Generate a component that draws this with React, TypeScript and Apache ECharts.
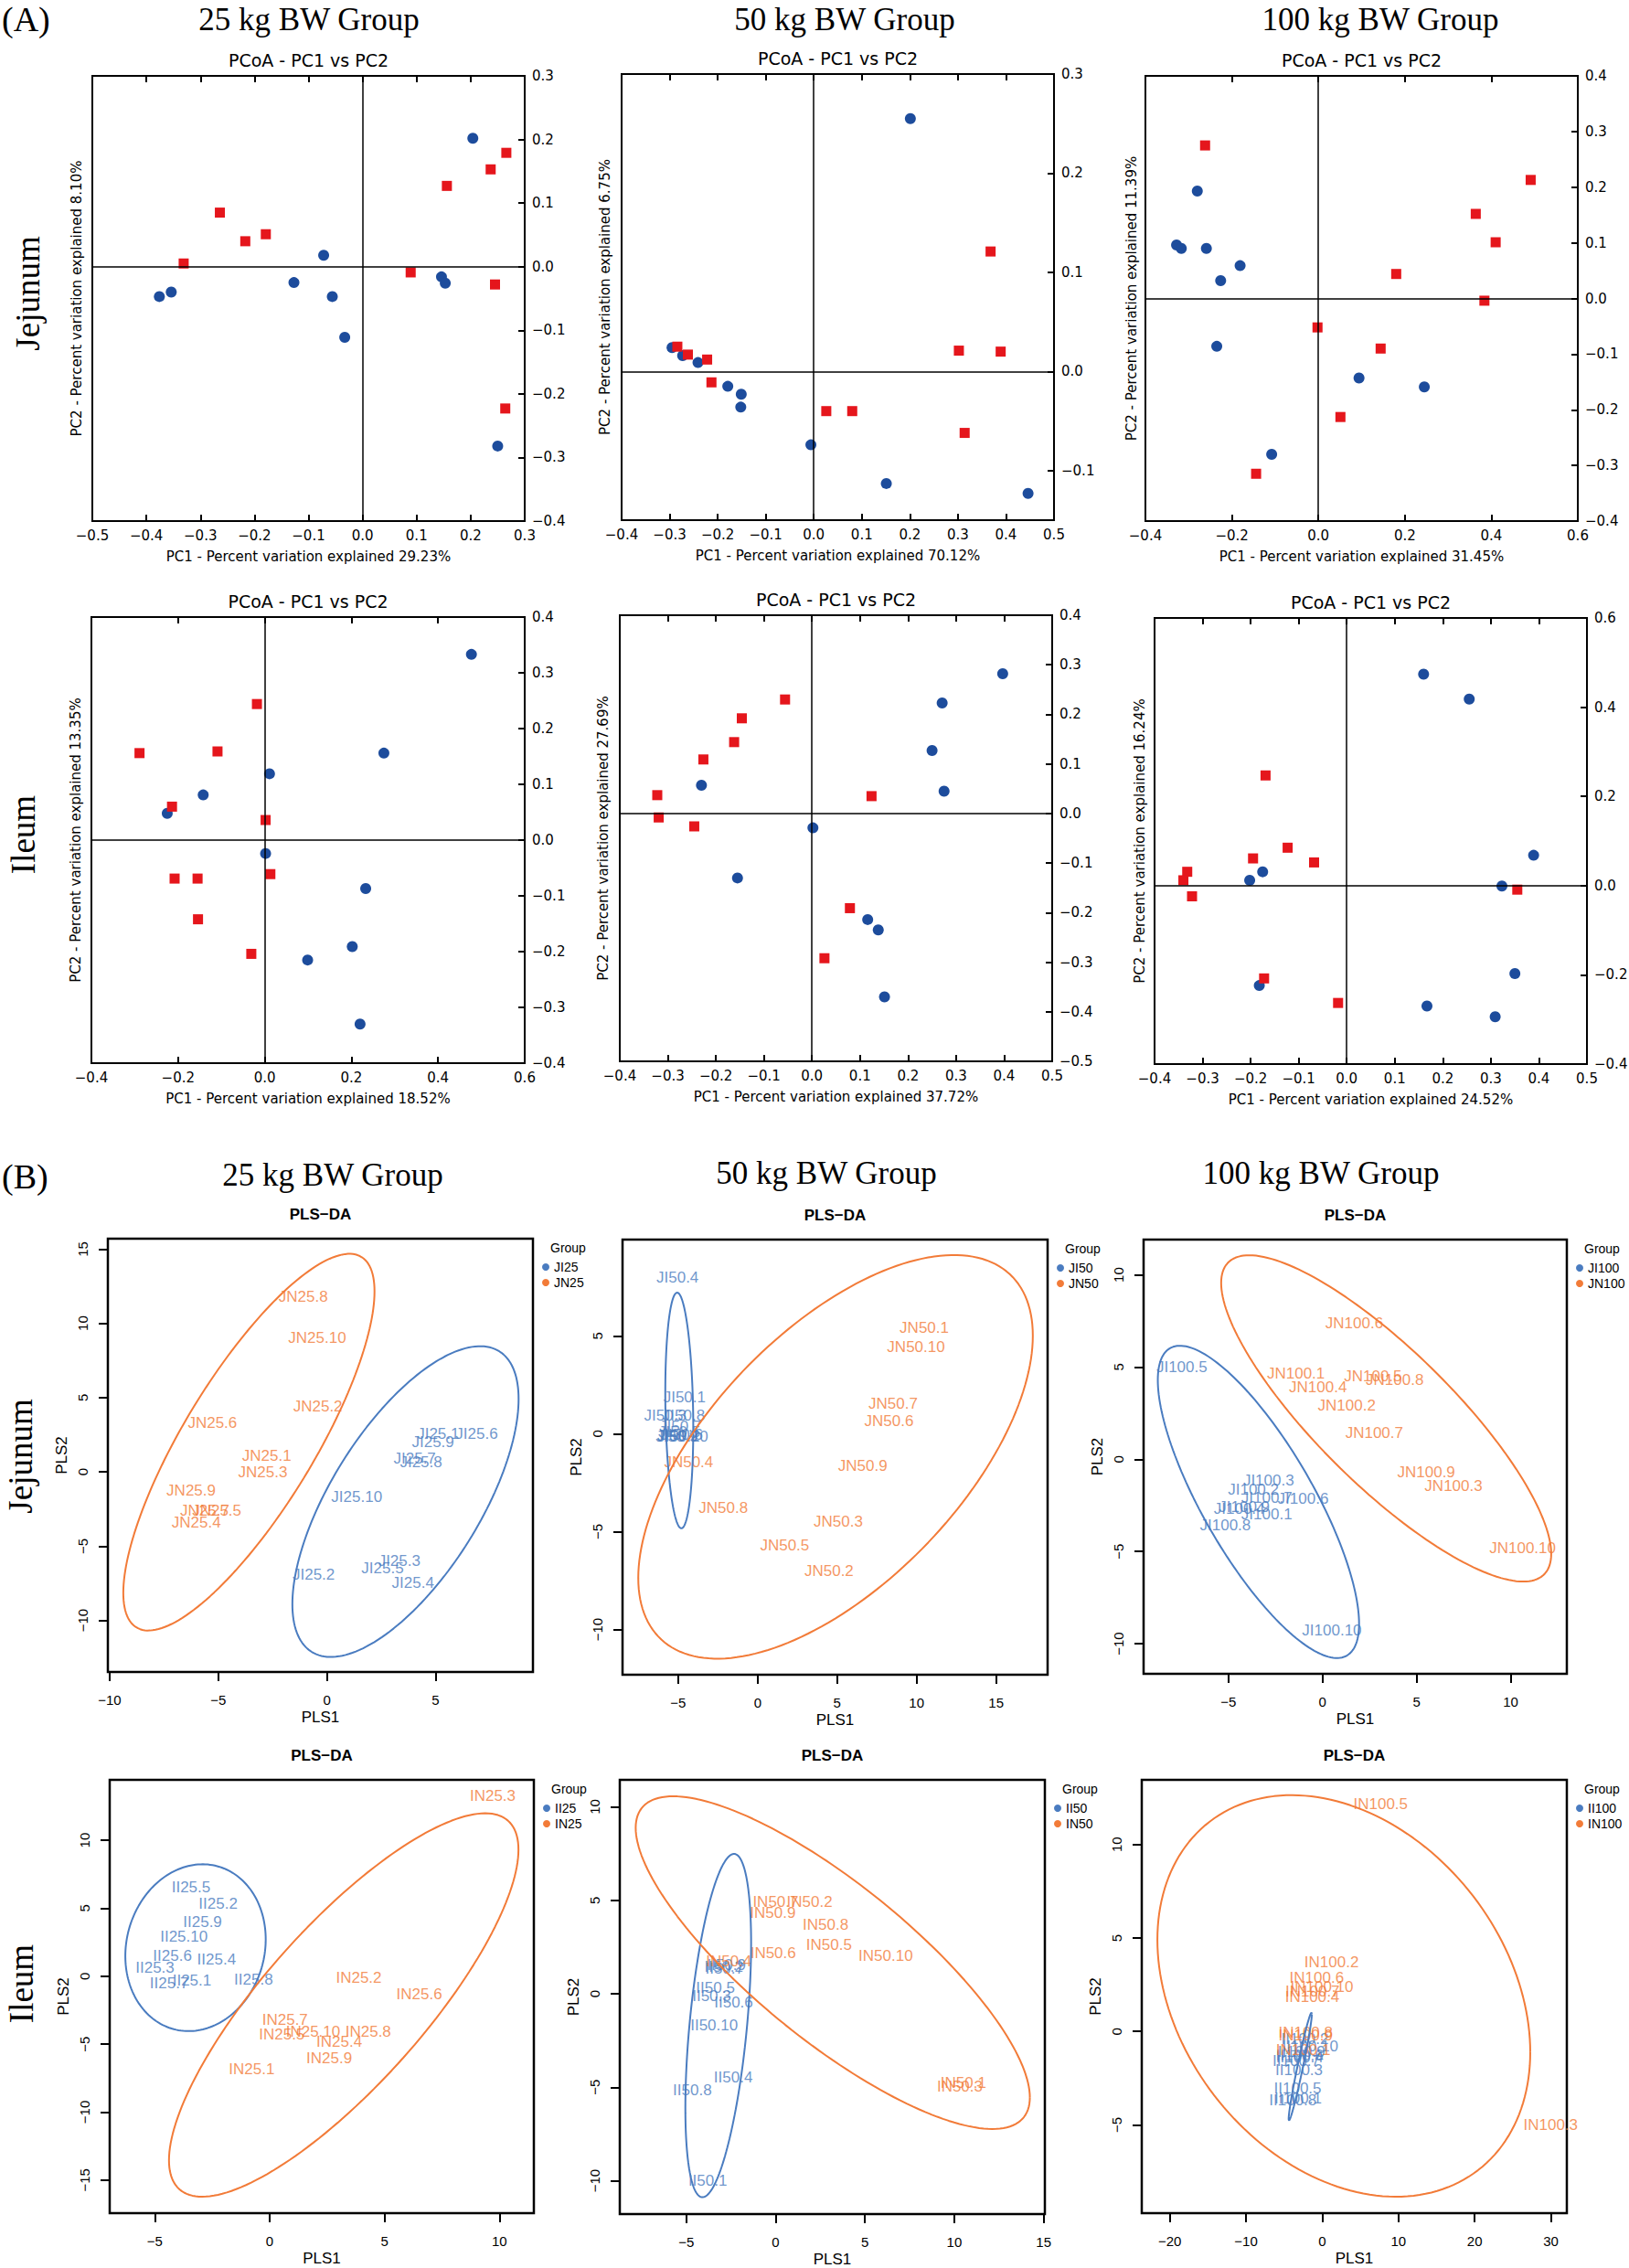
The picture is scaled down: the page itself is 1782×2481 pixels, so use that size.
import React, { useEffect, useRef } from "react";
import * as echarts from "echarts";

type Pt = [number, number];
type Lab = [string, number, number];
// ellipse: centre x, centre y, half-width, half-height, tilt (relative height at the x-extreme)
type Ell = [number, number, number, number, number];

// ================= (A) PCoA scores =================
const jej25Blue: Pt[] = [[0.204, 0.202], [-0.072, 0.018], [-0.127, -0.025], [-0.056, -0.047], [-0.033, -0.111], [-0.376, -0.047], [-0.354, -0.04], [0.146, -0.016], [0.153, -0.026], [0.25, -0.282]];
const jej25Red: Pt[] = [[0.266, 0.179], [0.237, 0.153], [0.156, 0.127], [-0.264, 0.085], [-0.217, 0.04], [-0.179, 0.051], [-0.331, 0.005], [0.089, -0.009], [0.245, -0.028], [0.264, -0.223]];
const jej50Blue: Pt[] = [[0.201, 0.255], [-0.295, 0.024], [-0.273, 0.016], [-0.241, 0.009], [-0.179, -0.015], [-0.151, -0.023], [-0.152, -0.036], [-0.006, -0.074], [0.151, -0.113], [0.446, -0.123]];
const jej50Red: Pt[] = [[0.368, 0.121], [0.302, 0.021], [0.389, 0.02], [-0.284, 0.025], [-0.262, 0.017], [-0.222, 0.012], [-0.213, -0.011], [0.026, -0.04], [0.08, -0.04], [0.314, -0.062]];
const jej100Blue: Pt[] = [[-0.28, 0.193], [-0.328, 0.096], [-0.317, 0.09], [-0.259, 0.09], [-0.181, 0.059], [-0.226, 0.032], [-0.235, -0.086], [0.094, -0.143], [0.245, -0.159], [-0.108, -0.28]];
const jej100Red: Pt[] = [[-0.262, 0.275], [0.491, 0.213], [0.364, 0.152], [0.41, 0.101], [0.18, 0.044], [0.384, -0.004], [-0.002, -0.052], [0.144, -0.09], [0.051, -0.213], [-0.144, -0.315]];
const ile25Blue: Pt[] = [[0.477, 0.333], [0.275, 0.156], [0.011, 0.119], [-0.142, 0.081], [-0.225, 0.048], [0.002, -0.024], [0.233, -0.087], [0.202, -0.191], [0.099, -0.215], [0.22, -0.33]];
const ile25Red: Pt[] = [[-0.018, 0.244], [-0.289, 0.156], [-0.109, 0.159], [-0.214, 0.06], [0.002, 0.036], [-0.208, -0.069], [-0.155, -0.069], [0.013, -0.061], [-0.154, -0.142], [-0.031, -0.204]];
const ile50Blue: Pt[] = [[0.397, 0.282], [0.271, 0.223], [0.25, 0.127], [0.275, 0.045], [-0.23, 0.057], [0.002, -0.029], [-0.155, -0.13], [0.116, -0.214], [0.138, -0.235], [0.151, -0.37]];
const ile50Red: Pt[] = [[-0.056, 0.23], [-0.146, 0.192], [-0.162, 0.144], [-0.226, 0.109], [-0.322, 0.037], [-0.319, -0.008], [-0.245, -0.026], [0.124, 0.035], [0.079, -0.191], [0.026, -0.292]];
const ile100Blue: Pt[] = [[0.16, 0.474], [0.255, 0.418], [0.389, 0.068], [0.323, -0.001], [0.35, -0.197], [0.167, -0.27], [0.309, -0.294], [-0.175, 0.031], [-0.202, 0.012], [-0.182, -0.224]];
const ile100Red: Pt[] = [[-0.169, 0.247], [-0.123, 0.085], [-0.195, 0.061], [-0.068, 0.052], [-0.332, 0.031], [-0.34, 0.012], [-0.322, -0.024], [0.355, -0.009], [-0.172, -0.208], [-0.018, -0.263]];

const pc1Var = ["29.23%", "70.12%", "31.45%", "18.52%", "37.72%", "24.52%"];
const pc2Var = ["8.10%", "6.75%", "11.39%", "13.35%", "27.69%", "16.24%"];

// PCoA tick values
const ticksJ25X = [-0.5, -0.4, -0.3, -0.2, -0.1, 0, 0.1, 0.2, 0.3];
const ticksJ25Y = [-0.4, -0.3, -0.2, -0.1, 0, 0.1, 0.2, 0.3];
const ticksJ50X = [-0.4, -0.3, -0.2, -0.1, 0, 0.1, 0.2, 0.3, 0.4, 0.5];
const ticksJ50Y = [-0.1, 0, 0.1, 0.2, 0.3];
const ticksJ100X = [-0.4, -0.2, 0, 0.2, 0.4, 0.6];
const ticksJ100Y = [-0.4, -0.3, -0.2, -0.1, 0, 0.1, 0.2, 0.3, 0.4];
const ticksI25X = [-0.4, -0.2, 0, 0.2, 0.4, 0.6];
const ticksI25Y = [-0.4, -0.3, -0.2, -0.1, 0, 0.1, 0.2, 0.3, 0.4];
const ticksI50X = [-0.4, -0.3, -0.2, -0.1, 0, 0.1, 0.2, 0.3, 0.4, 0.5];
const ticksI50Y = [-0.5, -0.4, -0.3, -0.2, -0.1, 0, 0.1, 0.2, 0.3, 0.4];
const ticksI100X = [-0.4, -0.3, -0.2, -0.1, 0, 0.1, 0.2, 0.3, 0.4, 0.5];
const ticksI100Y = [-0.4, -0.2, 0, 0.2, 0.4, 0.6];

// ================= (B) PLS-DA sample scores =================
const jej25JI: Lab[] = [["JI25.1", 5.12, 2.56], ["JI25.6", 6.89, 2.56], ["JI25.9", 4.88, 1.98], ["JI25.7", 4.04, 0.88], ["JI25.8", 4.33, 0.68], ["JI25.10", 1.37, -1.66], ["JI25.3", 3.33, -5.98], ["JI25.5", 2.56, -6.48], ["JI25.2", -0.61, -6.93], ["JI25.4", 3.96, -7.49]];
const jej25JN: Lab[] = [["JN25.8", -1.09, 11.81], ["JN25.10", -0.45, 9.05], ["JN25.2", -0.42, 4.4], ["JN25.6", -5.27, 3.32], ["JN25.1", -2.77, 1.06], ["JN25.3", -2.95, 0.0], ["JN25.9", -6.25, -1.28], ["JN25.7", -5.62, -2.59], ["JN25.5", -5.07, -2.59], ["JN25.4", -6.01, -3.42]];
const jej50JI: Lab[] = [["JI50.4", -5.04, 7.98], ["JI50.1", -4.6, 1.85], ["JI50.3", -5.81, 0.95], ["JI50.8", -4.65, 0.92], ["JI50.7", -4.87, 0.38], ["JI50.5", -4.93, 0.1], ["JI50.2", -5.0, -0.1], ["JI50.6", -4.78, -0.04], ["JI50.9", -5.09, -0.15], ["JI50.10", -4.71, -0.15]];
const jej50JN: Lab[] = [["JN50.1", 10.48, 5.4], ["JN50.10", 9.96, 4.45], ["JN50.7", 8.52, 1.56], ["JN50.6", 8.26, 0.63], ["JN50.9", 6.61, -1.66], ["JN50.4", -4.34, -1.43], ["JN50.8", -2.16, -3.78], ["JN50.3", 5.07, -4.48], ["JN50.5", 1.7, -5.69], ["JN50.2", 4.49, -7.02]];
const jej100JI: Lab[] = [["JI100.5", -7.47, 4.99], ["JI100.3", -2.86, -1.17], ["JI100.2", -3.67, -1.64], ["JI100.7", -2.96, -2.08], ["JI100.6", -1.03, -2.12], ["JI100.9", -4.15, -2.59], ["JI100.4", -4.42, -2.69], ["JI100.1", -2.96, -2.99], ["JI100.8", -5.16, -3.6], ["JI100.10", 0.5, -9.3]];
const jej100JN: Lab[] = [["JN100.6", 1.69, 7.36], ["JN100.1", -1.41, 4.63], ["JN100.5", 2.68, 4.49], ["JN100.8", 3.84, 4.29], ["JN100.4", -0.24, 3.92], ["JN100.2", 1.29, 2.93], ["JN100.7", 2.75, 1.44], ["JN100.9", 5.51, -0.71], ["JN100.3", 6.96, -1.46], ["JN100.10", 10.63, -4.81]];
const ile25II: Lab[] = [["II25.5", -3.42, 6.55], ["II25.2", -2.24, 5.32], ["II25.9", -2.92, 3.96], ["II25.10", -3.73, 2.93], ["II25.6", -4.23, 1.47], ["II25.4", -2.31, 1.26], ["II25.3", -4.99, 0.6], ["II25.7", -4.37, -0.52], ["II25.1", -3.38, -0.31], ["II25.8", -0.7, -0.26]];
const ile25IN: Lab[] = [["IN25.3", 9.71, 13.26], ["IN25.2", 3.88, -0.13], ["IN25.6", 6.51, -1.36], ["IN25.7", 0.67, -3.2], ["IN25.5", 0.53, -4.3], ["IN25.10", 1.89, -4.11], ["IN25.8", 4.29, -4.11], ["IN25.4", 3.03, -4.82], ["IN25.9", 2.59, -6.0], ["IN25.1", -0.78, -6.87]];
const ile50II: Lab[] = [["II50.9", -2.75, 1.55], ["II50.7", -2.85, 1.35], ["II50.2", -2.9, 1.42], ["II50.5", -3.37, 0.34], ["II50.3", -3.58, -0.13], ["II50.6", -2.35, -0.46], ["II50.10", -3.44, -1.69], ["II50.4", -2.37, -4.47], ["II50.8", -4.66, -5.18], ["II50.1", -3.8, -9.99]];
const ile50IN: Lab[] = [["IN50.7", 0.0, 4.91], ["IN50.2", 1.9, 4.91], ["IN50.9", -0.16, 4.34], ["IN50.8", 2.8, 3.71], ["IN50.5", 2.99, 2.63], ["IN50.6", -0.14, 2.19], ["IN50.10", 6.16, 2.02], ["IN50.4", -2.62, 1.73], ["IN50.1", 10.51, -4.76], ["IN50.3", 10.31, -4.95]];
const ile100II: Lab[] = [["II100.5", -3.22, -3.03], ["II100.3", -3.04, -2.08], ["II100.8", -3.85, -3.66], ["II100.1", -3.17, -3.6], ["II100.10", -1.59, -0.8], ["II100.6", -2.95, -1.28], ["II100.9", -2.72, -1.09], ["II100.2", -2.27, -0.42], ["II100.4", -2.95, -1.37], ["II100.7", -3.4, -1.56]];
const ile100IN: Lab[] = [["IN100.5", 7.66, 12.14], ["IN100.3", 29.96, -4.99], ["IN100.2", 1.22, 3.72], ["IN100.6", -0.73, 2.86], ["IN100.10", -0.05, 2.4], ["IN100.7", -1.27, 2.15], ["IN100.4", -1.31, 1.87], ["IN100.8", -2.18, -0.04], ["IN100.9", -2.18, -0.23], ["IN100.1", -2.49, -0.99]];

// confidence ellipses
const ellJ25JI: Ell = [3.615, -2.0, 5.205, 10.46, 0.66];
const ellJ25JN: Ell = [-3.59, 2.0, 5.78, 12.68, 0.8];
const ellJ50JI: Ell = [-4.93, 1.19, 0.88, 6.02, -0.15];
const ellJ50JN: Ell = [4.9, -1.18, 12.41, 10.31, 0.6];
const ellJ100JI: Ell = [-3.4, -2.31, 5.345, 8.465, -0.78];
const ellJ100JN: Ell = [3.385, 2.215, 8.765, 8.845, -0.83];
const ellI25II: Ell = [-3.225, 2.095, 3.055, 6.135, 0.1];
const ellI25IN: Ell = [3.225, -2.12, 7.605, 14.1, 0.81];
const ellI50II: Ell = [-3.21, -1.7, 1.84, 9.18, 0.48];
const ellI50IN: Ell = [3.2, 1.665, 11.03, 8.895, -0.81];
const ellI100II: Ell = [-2.88, -1.875, 1.52, 2.885, 0.97];
const ellI100IN: Ell = [2.835, 1.9, 24.455, 10.74, -0.28];

// PLS-DA tick values
const plsJ25X = [-10, -5, 0, 5];
const plsJ25Y = [-10, -5, 0, 5, 10, 15];
const plsJ50X = [-5, 0, 5, 10, 15];
const plsJ50Y = [-10, -5, 0, 5];
const plsJ100X = [-5, 0, 5, 10];
const plsJ100Y = [-10, -5, 0, 5, 10];
const plsI25X = [-5, 0, 5, 10];
const plsI25Y = [-15, -10, -5, 0, 5, 10];
const plsI50X = [-5, 0, 5, 10, 15];
const plsI50Y = [-10, -5, 0, 5, 10];
const plsI100X = [-20, -10, 0, 10, 20, 30];
const plsI100Y = [-5, 0, 5, 10];

const groupTitles = ["25 kg BW Group", "50 kg BW Group", "100 kg BW Group"];

// ================= styling / layout =================
const SANS = "'DejaVu Sans', sans-serif";
const RS = "'Liberation Sans', Arial, sans-serif";
const SERIF = "'Liberation Serif', 'Times New Roman', serif";
const PT_BLUE = "#1d4c9c";
const PT_RED = "#e5161c";
const PLS_BLUE = "#4a7cc0";
const PLS_ORANGE = "#f27b38";

const pcoaPanels = [
  { box: [101, 83, 473, 487], blue: jej25Blue, red: jej25Red, xt: ticksJ25X, yt: ticksJ25Y, xr: [-0.5, 0.3], yr: [-0.4, 0.3], yGap: 10 },
  { box: [680, 81, 473, 488], blue: jej50Blue, red: jej50Red, xt: ticksJ50X, yt: ticksJ50Y, xr: [-0.4, 0.5], yr: [-0.15, 0.3], yGap: 11 },
  { box: [1253, 83, 473, 487], blue: jej100Blue, red: jej100Red, xt: ticksJ100X, yt: ticksJ100Y, xr: [-0.4, 0.6], yr: [-0.4, 0.4], yGap: 8 },
  { box: [100, 675, 474, 488], blue: ile25Blue, red: ile25Red, xt: ticksI25X, yt: ticksI25Y, xr: [-0.4, 0.6], yr: [-0.4, 0.4], yGap: 10 },
  { box: [678, 673, 473, 488], blue: ile50Blue, red: ile50Red, xt: ticksI50X, yt: ticksI50Y, xr: [-0.4, 0.5], yr: [-0.5, 0.4], yGap: 11 },
  { box: [1263, 676, 473, 488], blue: ile100Blue, red: ile100Red, xt: ticksI100X, yt: ticksI100Y, xr: [-0.4, 0.5], yr: [-0.4, 0.6], yGap: 9 },
];

const plsPanels = [
  { box: [118, 1355, 465, 474], xr: [-10.08, 9.48], yr: [-13.47, 15.7], xt: plsJ25X, yt: plsJ25Y, a: jej25JI, b: jej25JN, ea: ellJ25JI, eb: ellJ25JN, legend: ["JI25", "JN25"] },
  { box: [681, 1356, 465, 476], xr: [-8.5, 18.24], yr: [-12.31, 9.92], xt: plsJ50X, yt: plsJ50Y, a: jej50JI, b: jej50JN, ea: ellJ50JI, eb: ellJ50JN, legend: ["JI50", "JN50"] },
  { box: [1251, 1356, 463, 475], xr: [-9.5, 12.98], yr: [-11.63, 11.91], xt: plsJ100X, yt: plsJ100Y, a: jej100JI, b: jej100JN, ea: ellJ100JI, eb: ellJ100JN, legend: ["JI100", "JN100"] },
  { box: [120, 1947, 464, 474], xr: [-6.96, 11.5], yr: [-17.43, 14.44], xt: plsI25X, yt: plsI25Y, a: ile25II, b: ile25IN, ea: ellI25II, eb: ellI25IN, legend: ["II25", "IN25"] },
  { box: [678, 1947, 465, 475], xr: [-8.72, 15.07], yr: [-11.78, 11.44], xt: plsI50X, yt: plsI50Y, a: ile50II, b: ile50IN, ea: ellI50II, eb: ellI50IN, legend: ["II50", "IN50"] },
  { box: [1249, 1947, 465, 474], xr: [-23.67, 32.09], yr: [-9.72, 13.46], xt: plsI100X, yt: plsI100Y, a: ile100II, b: ile100IN, ea: ellI100II, eb: ellI100IN, legend: ["II100", "IN100"] },
];

const MINUS = "\u2212";
function fmtA(v: number) {
  const s = (Math.abs(v) < 1e-9 ? 0 : v).toFixed(1);
  return s.replace("-", MINUS);
}
function fmtB(v: number) {
  const r = Math.round(v);
  return r < 0 ? MINUS + Math.abs(r) : String(r);
}
function ellipseOutline(e: Ell): Pt[] {
  const [cx, cy, a, b, k] = e;
  const d = Math.acos(k);
  const out: Pt[] = [];
  const n = 180;
  for (let i = 0; i <= n; i++) {
    const t = (i / n) * Math.PI * 2;
    out.push([cx + a * Math.cos(t), cy + b * Math.cos(t + d)]);
  }
  return out;
}

function buildOption() {
  const grid: any[] = [];
  const xAxis: any[] = [];
  const yAxis: any[] = [];
  const series: any[] = [];
  const graphic: any[] = [];

  const txt = (text: string, x: number, y: number, font: string, align = "center", rot = 0) => ({
    type: "text",
    x,
    y,
    rotation: rot,
    silent: true,
    z: 100,
    style: { text, font, fill: "#000", align, verticalAlign: "middle", textAlign: align, textVerticalAlign: "middle" },
  });

  // ---------- (A) ----------
  pcoaPanels.forEach((p, i) => {
    const [L, T, Wd, Ht] = p.box;
    const g = grid.length;
    grid.push({ left: L, top: T, width: Wd, height: Ht, show: true, borderColor: "#000", borderWidth: 2, backgroundColor: "transparent", outerBoundsMode: "none" });
    const tick = (vals: number[]) => ({ show: true, inside: true, length: 7, lineStyle: { color: "#000", width: 2 }, customValues: vals });
    const xi = xAxis.length;
    xAxis.push({
      gridIndex: g, type: "value", min: p.xr[0], max: p.xr[1], position: "bottom",
      axisLine: { show: false, onZero: false }, axisTick: tick(p.xt), splitLine: { show: false },
      axisLabel: { customValues: p.xt, formatter: fmtA, margin: 8, fontSize: 15, color: "#000", fontFamily: SANS },
      name: `PC1 - Percent variation explained ${pc1Var[i]}`, nameLocation: "middle", nameGap: 31, nameMoveOverlap: false,
      nameTextStyle: { fontSize: 15, color: "#000", fontFamily: SANS },
    });
    xAxis.push({
      gridIndex: g, type: "value", min: p.xr[0], max: p.xr[1], position: "top",
      axisLine: { show: false, onZero: false }, axisTick: tick(p.xt), axisLabel: { show: false }, splitLine: { show: false },
    });
    const yi = yAxis.length;
    yAxis.push({
      gridIndex: g, type: "value", min: p.yr[0], max: p.yr[1], position: "right",
      axisLine: { show: false, onZero: false }, axisTick: tick(p.yt), splitLine: { show: false },
      axisLabel: { customValues: p.yt, formatter: fmtA, margin: 8, fontSize: 15, color: "#000", fontFamily: SANS },
    });
    yAxis.push({
      gridIndex: g, type: "value", min: p.yr[0], max: p.yr[1], position: "left",
      axisLine: { show: false, onZero: false }, axisTick: { show: false }, axisLabel: { show: false }, splitLine: { show: false },
      name: `PC2 - Percent variation explained ${pc2Var[i]}`, nameLocation: "middle", nameRotate: 90, nameGap: p.yGap, nameMoveOverlap: false,
      nameTextStyle: { fontSize: 15, color: "#000", fontFamily: SANS },
    });
    series.push({
      type: "scatter", xAxisIndex: xi, yAxisIndex: yi, data: [], silent: true, z: 1,
      markLine: {
        silent: true, symbol: ["none", "none"], label: { show: false },
        lineStyle: { color: "#000", width: 1.5, type: "solid" },
        data: [{ xAxis: 0 }, { yAxis: 0 }],
      },
    });
    series.push({
      type: "scatter", xAxisIndex: xi, yAxisIndex: yi, data: p.blue, symbol: "circle", symbolSize: 12,
      itemStyle: { color: PT_BLUE, opacity: 1 }, silent: true, z: 3,
    });
    series.push({
      type: "scatter", xAxisIndex: xi, yAxisIndex: yi, data: p.red, symbol: "rect", symbolSize: 11,
      itemStyle: { color: PT_RED, opacity: 1 }, silent: true, z: 4,
    });
    graphic.push(txt("PCoA - PC1 vs PC2", L + Wd / 2, T - 17, `19px ${SANS}`));
  });

  // ---------- (B) ----------
  plsPanels.forEach((p) => {
    const [L, T, Wd, Ht] = p.box;
    const g = grid.length;
    grid.push({ left: L, top: T, width: Wd, height: Ht, show: true, borderColor: "#000", borderWidth: 2.5, backgroundColor: "transparent", outerBoundsMode: "none" });
    const xi = xAxis.length;
    xAxis.push({
      gridIndex: g, type: "value", min: p.xr[0], max: p.xr[1], position: "bottom",
      axisLine: { show: false, onZero: false },
      axisTick: { show: true, inside: false, length: 10, lineStyle: { color: "#000", width: 2 }, customValues: p.xt },
      axisLabel: { customValues: p.xt, formatter: fmtB, margin: 23, fontSize: 15, color: "#000", fontFamily: RS },
      splitLine: { show: false },
      name: "PLS1", nameLocation: "middle", nameGap: 41, nameMoveOverlap: false,
      nameTextStyle: { fontSize: 17, color: "#000", fontFamily: RS },
    });
    const yi = yAxis.length;
    yAxis.push({
      gridIndex: g, type: "value", min: p.yr[0], max: p.yr[1], position: "left",
      axisLine: { show: false, onZero: false },
      axisTick: { show: true, inside: false, length: 10, lineStyle: { color: "#000", width: 2 }, customValues: p.yt },
      axisLabel: { customValues: p.yt, formatter: fmtB, rotate: 90, margin: 20, fontSize: 15, color: "#000", fontFamily: RS },
      splitLine: { show: false },
      name: "PLS2", nameLocation: "middle", nameRotate: 90, nameGap: 42, nameMoveOverlap: false,
      nameTextStyle: { fontSize: 17, color: "#000", fontFamily: RS },
    });
    const labelSeries = (labs: Lab[], color: string, name: string, z: number) => ({
      type: "scatter", name, xAxisIndex: xi, yAxisIndex: yi, silent: true, z,
      symbol: "circle", symbolSize: 1, itemStyle: { color: "rgba(0,0,0,0)" },
      data: labs.map(([n, x, y]) => ({ name: n, value: [x, y] })),
      label: { show: true, position: "inside", formatter: "{b}", color, fontSize: 17, fontFamily: RS },
      labelLayout: { hideOverlap: false },
    });
    series.push(labelSeries(p.a, PLS_BLUE, p.legend[0], 3));
    series.push(labelSeries(p.b, PLS_ORANGE, p.legend[1], 4));
    const ell = (e: Ell, color: string) => ({
      type: "line", xAxisIndex: xi, yAxisIndex: yi, data: ellipseOutline(e), showSymbol: false, symbol: "none",
      lineStyle: { color, width: 2 }, silent: true, z: 5, smooth: false,
    });
    series.push(ell(p.ea, PLS_BLUE));
    series.push(ell(p.eb, PLS_ORANGE));

    graphic.push(txt("PLS\u2212DA", L + Wd / 2, T - 27, `bold 17px ${RS}`));
    const R = L + Wd;
    graphic.push(txt("Group", R + 19, T + 10, `14px ${RS}`, "left"));
    [0, 1].forEach((j) => {
      graphic.push({ type: "circle", silent: true, z: 100, shape: { cx: R + 14, cy: T + 31 + 17 * j, r: 4 }, style: { fill: j ? PLS_ORANGE : PLS_BLUE } });
      graphic.push(txt(p.legend[j], R + 23, T + 31 + 17 * j, `14px ${RS}`, "left"));
    });
  });

  // ---------- headings ----------
  graphic.push(txt("(A)", 2, 21, `38px ${SERIF}`, "left"));
  graphic.push(txt(groupTitles[0], 338, 21, `35px ${SERIF}`));
  graphic.push(txt(groupTitles[1], 924, 21, `35px ${SERIF}`));
  graphic.push(txt(groupTitles[2], 1510, 21, `35px ${SERIF}`));
  graphic.push(txt("(B)", 2, 1287, `38px ${SERIF}`, "left"));
  graphic.push(txt(groupTitles[0], 364, 1285, `35px ${SERIF}`));
  graphic.push(txt(groupTitles[1], 904, 1283, `35px ${SERIF}`));
  graphic.push(txt(groupTitles[2], 1445, 1283, `35px ${SERIF}`));
  graphic.push(txt("Jejunum", 30, 321, `37px ${SERIF}`, "center", Math.PI / 2));
  graphic.push(txt("Ileum", 25, 913, `37px ${SERIF}`, "center", Math.PI / 2));
  graphic.push(txt("Jejunum", 22, 1593, `37px ${SERIF}`, "center", Math.PI / 2));
  graphic.push(txt("Ileum", 23, 2170, `37px ${SERIF}`, "center", Math.PI / 2));

  return {
    animation: false,
    backgroundColor: "#fff",
    grid,
    xAxis,
    yAxis,
    series,
    graphic,
  };
}

export default function App() {
  const ref = useRef<HTMLDivElement>(null);
  useEffect(() => {
    if (!ref.current) return;
    const chart = echarts.init(ref.current, null, { renderer: "svg" });
    chart.setOption(buildOption() as any);
    return () => chart.dispose();
  }, []);
  return (
    <div
      ref={ref}
      style={{ position: "absolute", left: 0, top: 0, width: 1782, height: 2481, background: "#fff" }}
    />
  );
}
